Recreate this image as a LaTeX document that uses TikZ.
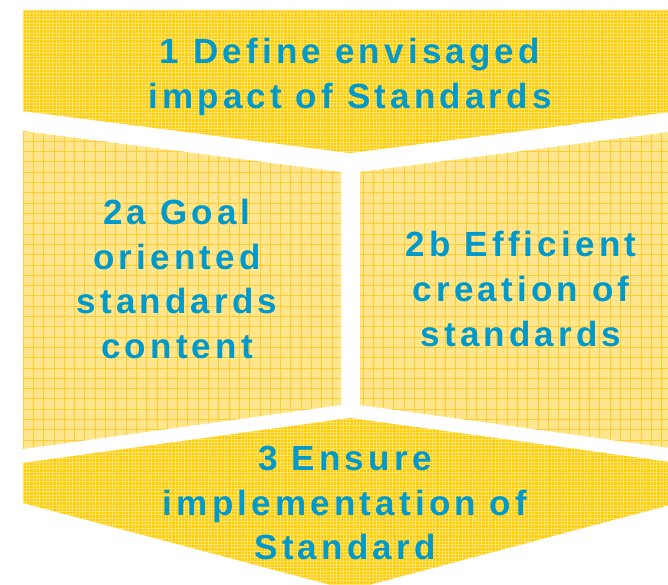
\documentclass[tikz,border=0pt]{standalone}
\usepackage{fontspec}
\newfontfamily\panelfont[LetterSpace=12]{Liberation Sans}
\definecolor{stdyellow}{RGB}{255,204,0}
\definecolor{stdyellowsoft}{RGB}{255,229,140}
\definecolor{stdgridfine}{RGB}{255,226,112}
\definecolor{stdgridsoft}{RGB}{255,204,51}
\definecolor{stdblue}{RGB}{0,153,204}

\begin{document}
\begin{tikzpicture}[x=1pt,y=-1pt]
\tikzset{
  steptext/.style={font=\panelfont\bfseries\fontsize{35}{44.7}\selectfont,text=stdblue,align=center,inner sep=0pt},
  strongpanel/.style={fill=stdyellow},
  softpanel/.style={fill=stdyellowsoft},
  finegrid/.style={draw=stdgridfine,line width=0.7pt},
  softgrid/.style={draw=stdgridsoft,line width=0.8pt}
}
\useasboundingbox (0,0) rectangle (668,585);
\path[strongpanel] (23,10) -- (677,10) -- (677,111) -- (350,153) -- (23,111) -- cycle;
\begin{scope}
  \clip (23,10) -- (677,10) -- (677,111) -- (350,153) -- (23,111) -- cycle;
  \draw[finegrid,step=3.3pt] (20,0) grid (680,160);
\end{scope}
\path[softpanel] (23,131) -- (341,172) -- (341,405) -- (23,449) -- cycle;
\path[softpanel] (360,172) -- (677,131) -- (677,449) -- (360,405) -- cycle;
\begin{scope}
  \clip (23,131) -- (341,172) -- (341,405) -- (23,449) -- cycle
        (360,172) -- (677,131) -- (677,449) -- (360,405) -- cycle;
  \draw[softgrid,step=10.3pt,shift={(23,131)}] (0,-10) grid (660,330);
\end{scope}
\path[strongpanel] (23,463) -- (350,418) -- (677,463) -- (677,503) -- (350,590) -- (23,503) -- cycle;
\begin{scope}
  \clip (23,463) -- (350,418) -- (677,463) -- (677,503) -- (350,590) -- (23,503) -- cycle;
  \draw[finegrid,step=3.3pt] (20,410) grid (680,600);
\end{scope}
\node[steptext] (impact) at (350,77) {1 Define envisaged\\impact of Standards};
\node[steptext] (goal) at (177,279) {2a Goal\\oriented\\standards\\content};
\node[steptext] (efficient) at (521,289) {2b Efficient\\creation of\\standards};
\node[steptext] (ensure) at (345,503) {3 Ensure\\implementation of\\Standard};
\end{tikzpicture}
\end{document}
